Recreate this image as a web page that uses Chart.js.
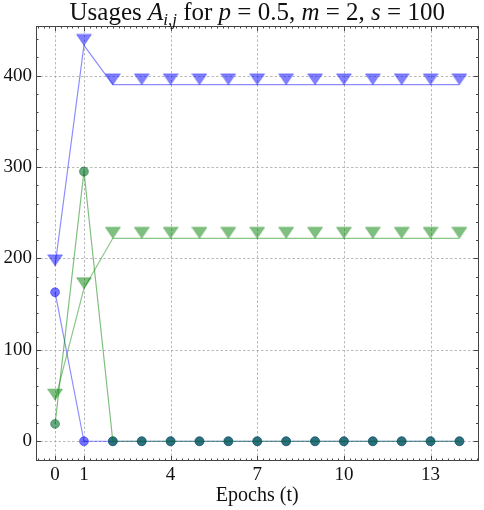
<!DOCTYPE html>
<html>
<head>
<meta charset="utf-8">
<script src="https://cdn.jsdelivr.net/npm/chart.js@4.4.0/dist/chart.umd.min.js"></script>
<style>
  html, body { margin: 0; padding: 0; background: #fff; }
  #chart { display: block; }
</style>
</head>
<body>
<canvas id="chart" width="484" height="510"></canvas>
<script>
// Data
const epochs = [0, 1, 2, 3, 4, 5, 6, 7, 8, 9, 10, 11, 12, 13, 14];
const blueTriangles = [192, 433, 390, 390, 390, 390, 390, 390, 390, 390, 390, 390, 390, 390, 390];
const blueCircles = [163, 0, 0, 0, 0, 0, 0, 0, 0, 0, 0, 0, 0, 0, 0];
const greenTriangles = [45, 167, 222, 222, 222, 222, 222, 222, 222, 222, 222, 222, 222, 222, 222];
const greenCircles = [19, 295, 0, 0, 0, 0, 0, 0, 0, 0, 0, 0, 0, 0, 0];
const xTicks = [0, 1, 4, 7, 10, 13];
const yTicks = [0, 100, 200, 300, 400];

const SERIF = '"Liberation Serif", "DejaVu Serif", serif';

function pts(ys) {
    return epochs.map((x, i) => ({ x: x, y: ys[i] }));
}

// down triangle whose tip sits on the data point
function triangleMarker(fill, stroke) {
    const c = document.createElement('canvas');
    c.width = 16;
    c.height = 24;
    const ctx = c.getContext('2d');
    ctx.beginPath();
    ctx.moveTo(0.5, 1);
    ctx.lineTo(15.5, 1);
    ctx.lineTo(8, 12);
    ctx.closePath();
    ctx.fillStyle = fill;
    ctx.fill();
    ctx.strokeStyle = stroke;
    ctx.lineWidth = 1;
    ctx.stroke();
    return c;
}

const blueTri = triangleMarker('rgba(0,0,255,0.5)', 'rgba(0,0,255,0.3)');
const greenTri = triangleMarker('rgba(0,128,0,0.5)', 'rgba(0,128,0,0.3)');

function frameTicks(ctx, scale, area, minorStep, majors, horizontal) {
    const lo = Math.ceil(scale.min / minorStep) * minorStep;
    for (let v = lo; v <= scale.max + 1e-9; v += minorStep) {
        const isMajor = majors.some(m => Math.abs(m - v) < 1e-6);
        const len = isMajor ? 5 : 2.5;
        const p = Math.round(scale.getPixelForValue(v)) + 0.5;
        ctx.beginPath();
        if (horizontal) {
            ctx.moveTo(p, area.bottom); ctx.lineTo(p, area.bottom - len);
            ctx.moveTo(p, area.top); ctx.lineTo(p, area.top + len);
        } else {
            ctx.moveTo(area.left, p); ctx.lineTo(area.left + len, p);
            ctx.moveTo(area.right, p); ctx.lineTo(area.right - len, p);
        }
        ctx.stroke();
    }
}

const decorPlugin = {
    id: 'decor',
    beforeDatasetsDraw(chart) {
        const ctx = chart.ctx;
        const a = chart.chartArea;
        const xs = chart.scales.x, ys = chart.scales.y;
        ctx.save();
        ctx.strokeStyle = '#a8a8a8';
        ctx.lineWidth = 0.8;
        ctx.setLineDash([2.5, 2]);
        xTicks.forEach(v => {
            const p = Math.round(xs.getPixelForValue(v)) + 0.5;
            ctx.beginPath(); ctx.moveTo(p, a.top); ctx.lineTo(p, a.bottom); ctx.stroke();
        });
        yTicks.forEach(v => {
            const p = Math.round(ys.getPixelForValue(v)) + 0.5;
            ctx.beginPath(); ctx.moveTo(a.left, p); ctx.lineTo(a.right, p); ctx.stroke();
        });
        ctx.restore();
    },
    afterDatasetsDraw(chart) {
        const ctx = chart.ctx;
        const a = chart.chartArea;
        ctx.save();
        ctx.strokeStyle = '#444';
        ctx.lineWidth = 1;
        ctx.strokeRect(Math.round(a.left) + 0.5, Math.round(a.top) + 0.5,
            Math.round(a.right - a.left) - 1, Math.round(a.bottom - a.top) - 1);
        frameTicks(ctx, chart.scales.x, a, 0.2, xTicks, true);
        frameTicks(ctx, chart.scales.y, a, 20, yTicks, false);
        ctx.restore();
    },
    afterDraw(chart) {
        // title with math italics
        const ctx = chart.ctx;
        const parts = [
            { t: 'Usages ', f: '25px ' + SERIF, dy: 0 },
            { t: 'A', f: 'italic 25px ' + SERIF, dy: 0 },
            { t: 'i,j', f: 'italic 17px ' + SERIF, dy: 5 },
            { t: ' for ', f: '25px ' + SERIF, dy: 0 },
            { t: 'p', f: 'italic 25px ' + SERIF, dy: 0 },
            { t: ' = 0.5, ', f: '25px ' + SERIF, dy: 0 },
            { t: 'm', f: 'italic 25px ' + SERIF, dy: 0 },
            { t: ' = 2, ', f: '25px ' + SERIF, dy: 0 },
            { t: 's', f: 'italic 25px ' + SERIF, dy: 0 },
            { t: ' = 100', f: '25px ' + SERIF, dy: 0 }
        ];
        ctx.save();
        let total = 0;
        parts.forEach(p => { ctx.font = p.f; p.w = ctx.measureText(p.t).width; total += p.w; });
        const a = chart.chartArea;
        let x = (a.left + a.right) / 2 - total / 2;
        ctx.fillStyle = '#111';
        ctx.textBaseline = 'alphabetic';
        parts.forEach(p => {
            ctx.font = p.f;
            ctx.fillText(p.t, x, 20 + p.dy);
            x += p.w;
        });
        ctx.restore();
    }
};

new Chart(document.getElementById('chart').getContext('2d'), {
    type: 'scatter',
    data: {
        datasets: [
            {
                label: 'blue triangles',
                data: pts(blueTriangles),
                showLine: true,
                borderColor: 'rgba(0,0,255,0.45)',
                borderWidth: 1.2,
                pointStyle: blueTri,
                order: 4
            },
            {
                label: 'blue circles',
                data: pts(blueCircles),
                showLine: true,
                borderColor: 'rgba(0,0,255,0.45)',
                borderWidth: 1.2,
                pointStyle: 'circle',
                pointRadius: 4.5,
                pointBorderWidth: 1,
                pointBackgroundColor: 'rgba(0,0,255,0.55)',
                pointBorderColor: 'rgba(0,0,255,0.35)',
                order: 3
            },
            {
                label: 'green triangles',
                data: pts(greenTriangles),
                showLine: true,
                borderColor: 'rgba(0,128,0,0.45)',
                borderWidth: 1.2,
                pointStyle: greenTri,
                order: 2
            },
            {
                label: 'green circles',
                data: pts(greenCircles),
                showLine: true,
                borderColor: 'rgba(0,128,0,0.5)',
                borderWidth: 1.2,
                pointStyle: 'circle',
                pointRadius: 4.5,
                pointBorderWidth: 1,
                pointBackgroundColor: 'rgba(0,110,40,0.6)',
                pointBorderColor: 'rgba(0,100,40,0.4)',
                order: 1
            }
        ]
    },
    options: {
        responsive: false,
        animation: false,
        devicePixelRatio: 1,
        events: [],
        layout: { padding: { top: 26, right: 3, left: 0, bottom: 0 } },
        plugins: {
            legend: { display: false },
            tooltip: { enabled: false },
            title: { display: false }
        },
        scales: {
            x: {
                type: 'linear',
                min: -0.66,
                max: 14.66,
                grid: { display: false, drawTicks: false },
                border: { display: false },
                afterBuildTicks: s => { s.ticks = xTicks.map(v => ({ value: v })); },
                afterFit: s => { s.height = 49; },
                ticks: {
                    padding: 3,
                    color: '#111',
                    font: { family: SERIF, size: 19 },
                    maxRotation: 0,
                    autoSkip: false
                },
                title: {
                    display: true,
                    text: 'Epochs (t)',
                    color: '#111',
                    font: { family: SERIF, size: 20 },
                    padding: { top: 0, bottom: 2 }
                }
            },
            y: {
                type: 'linear',
                min: -21.6,
                max: 454.2,
                grid: { display: false, drawTicks: false },
                border: { display: false },
                afterBuildTicks: s => { s.ticks = yTicks.map(v => ({ value: v })); },
                afterFit: s => { s.width = 36; },
                ticks: {
                    padding: 4,
                    color: '#111',
                    font: { family: SERIF, size: 19 },
                    autoSkip: false
                }
            }
        }
    },
    plugins: [decorPlugin]
});
</script>
</body>
</html>
